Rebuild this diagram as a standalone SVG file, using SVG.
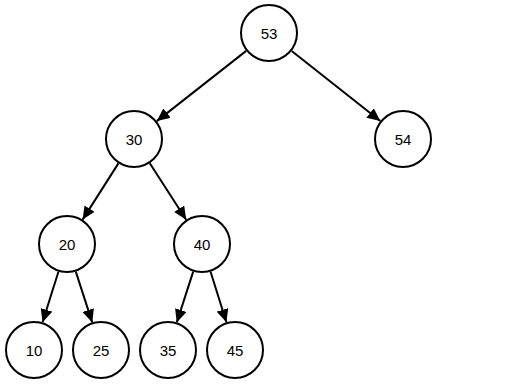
<svg xmlns="http://www.w3.org/2000/svg" width="505" height="385" viewBox="0 0 505 385">
<style>
.n circle{fill:#fff;stroke:#000;stroke-width:2}
.n text{font-family:"Liberation Sans",Arial,sans-serif;font-size:15px;fill:#000;text-anchor:middle;dominant-baseline:central}
.e line{stroke:#000;stroke-width:2;marker-end:url(#a)}
</style>
<defs>
<marker id="a" markerUnits="userSpaceOnUse" markerWidth="14" markerHeight="12" refX="13" refY="6" orient="auto">
<path d="M0,0 L13,6 L0,12 z" fill="#000"/>
</marker>
</defs>
<rect width="505" height="385" fill="#fff"/>
<g id="connectors" class="e">
<line x1="246.2" y1="50.9" x2="156.8" y2="121.1"/>
<line x1="291.7" y1="51" x2="380.3" y2="121"/>
<line x1="118.4" y1="163.4" x2="82.6" y2="219.6"/>
<line x1="149.8" y1="163.3" x2="186.2" y2="219.7"/>
<line x1="58.4" y1="271.7" x2="42.6" y2="322.3"/>
<line x1="75.8" y1="271.6" x2="92.2" y2="322.4"/>
<line x1="193.2" y1="271.6" x2="176.8" y2="322.4"/>
<line x1="210.6" y1="271.7" x2="226.4" y2="322.3"/>
</g>
<g id="n53" class="n"><circle cx="269" cy="33" r="28"/><text x="269" y="33">53</text></g>
<g id="n30" class="n"><circle cx="134" cy="139" r="28"/><text x="134" y="139">30</text></g>
<g id="n54" class="n"><circle cx="403" cy="139" r="28"/><text x="403" y="139">54</text></g>
<g id="n20" class="n"><circle cx="67" cy="244" r="28"/><text x="67" y="244">20</text></g>
<g id="n40" class="n"><circle cx="202" cy="244" r="28"/><text x="202" y="244">40</text></g>
<g id="n10" class="n"><circle cx="34" cy="350" r="28"/><text x="34" y="350">10</text></g>
<g id="n25" class="n"><circle cx="101" cy="350" r="28"/><text x="101" y="350">25</text></g>
<g id="n35" class="n"><circle cx="168" cy="350" r="28"/><text x="168" y="350">35</text></g>
<g id="n45" class="n"><circle cx="235" cy="350" r="28"/><text x="235" y="350">45</text></g>
</svg>
